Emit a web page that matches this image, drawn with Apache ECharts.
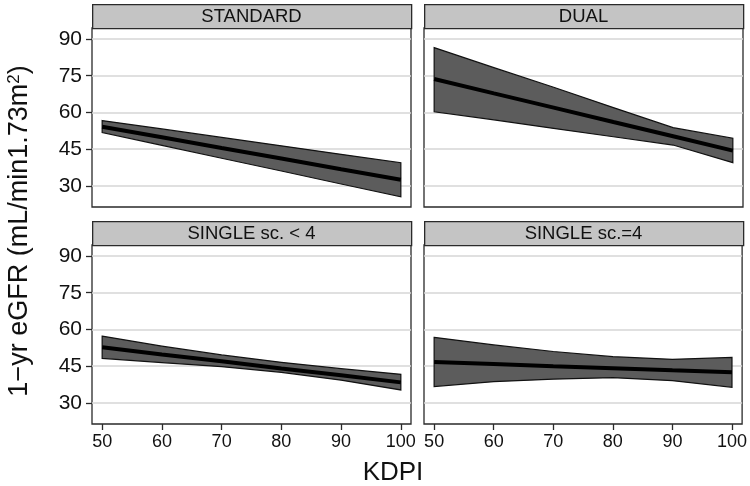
<!DOCTYPE html>
<html><head><meta charset="utf-8">
<script src="https://cdn.jsdelivr.net/npm/echarts@6/dist/echarts.min.js"></script>
<style>html,body{margin:0;padding:0;background:#fff}#c{width:750px;height:486px}</style>
</head><body><div id="c"></div>
<script>
// ---- data ----
const kdpi = [50, 60, 70, 80, 90, 100];
const panelTitles = ['STANDARD', 'DUAL', 'SINGLE sc. < 4', 'SINGLE sc.=4'];
const yTicks = [30, 45, 60, 75, 90];
const xTicks = [50, 60, 70, 80, 90, 100];

const standardFit   = [54.2, 49.9, 45.5, 41.2, 36.8, 32.5];
const standardUpper = [56.7, 53.3, 49.8, 46.4, 42.9, 39.5];
const standardLower = [51.8, 46.6, 41.3, 36.1, 30.8, 25.6];

const dualFit   = [73.7, 67.8, 62.0, 56.1, 50.3, 44.4];
const dualUpper = [86.5, 78.3, 70.3, 62.0, 53.8, 49.5];
const dualLower = [60.3, 57.0, 53.5, 50.1, 46.7, 39.5];

const singleLt4Fit   = [52.7, 49.8, 47.0, 44.1, 41.3, 38.4];
const singleLt4Upper = [57.3, 53.2, 49.6, 46.6, 44.0, 41.7];
const singleLt4Lower = [48.2, 46.5, 44.8, 42.5, 39.3, 35.3];

const singleEq4Fit   = [46.7, 45.9, 45.0, 44.2, 43.3, 42.5];
const singleEq4Upper = [56.8, 53.7, 51.0, 48.9, 47.8, 48.6];
const singleEq4Lower = [36.7, 38.7, 39.7, 40.3, 39.1, 36.4];

const fits   = [standardFit, dualFit, singleLt4Fit, singleEq4Fit];
const uppers = [standardUpper, dualUpper, singleLt4Upper, singleEq4Upper];
const lowers = [standardLower, dualLower, singleLt4Lower, singleEq4Lower];

// ---- layout ----
const panels = [
  {left: 92,  top: 28,  width: 319, height: 179},
  {left: 424, top: 28,  width: 319, height: 179},
  {left: 92,  top: 245, width: 319, height: 179},
  {left: 424, top: 245, width: 319, height: 179}
];
const stripH = 24;
const font = 'Liberation Sans, Arial, Helvetica, sans-serif';
const ink = '#111';

const grids = [], xAxes = [], yAxes = [], series = [], graphics = [];
panels.forEach((p, i) => {
  grids.push({left: p.left, top: p.top, width: p.width, height: p.height,
    show: true, borderColor: '#2a2a2a', borderWidth: 1.3, backgroundColor: '#fff', containLabel: false});
  const bottomRow = i >= 2, leftCol = i % 2 === 0;
  xAxes.push({type: 'value', gridIndex: i, min: 48.3, max: 101.7,
    axisLine: {show: false}, splitLine: {show: false},
    axisTick: {show: bottomRow, length: 6, lineStyle: {color: '#2a2a2a', width: 1.3}, customValues: xTicks},
    axisLabel: {show: bottomRow, customValues: xTicks, fontSize: 18, color: ink, fontFamily: font, margin: 9}
  });
  yAxes.push({type: 'value', gridIndex: i, min: 21.4, max: 94.5,
    axisLine: {show: false},
    splitLine: {show: true, lineStyle: {color: '#d6d6d6', width: 1.5}},
    axisTick: {show: leftCol, length: 6, lineStyle: {color: '#2a2a2a', width: 1.3}, customValues: yTicks},
    axisLabel: {show: leftCol, customValues: yTicks, fontSize: 21, color: ink, fontFamily: font, margin: 10}
  });
  const up = uppers[i], lo = lowers[i];
  series.push({
    type: 'custom', xAxisIndex: i, yAxisIndex: i, z: 2,
    data: kdpi.map((x, k) => [x, lo[k], up[k]]),
    encode: {x: 0, y: [1, 2]},
    renderItem: function (params, api) {
      if (params.dataIndex !== 0) return;
      const pts = [];
      for (let k = 0; k < kdpi.length; k++) pts.push(api.coord([kdpi[k], up[k]]));
      for (let k = kdpi.length - 1; k >= 0; k--) pts.push(api.coord([kdpi[k], lo[k]]));
      return {type: 'polygon', shape: {points: pts},
        style: {fill: '#5c5c5c', stroke: '#111', lineWidth: 1.2}};
    },
    silent: true
  });
  series.push({
    type: 'line', xAxisIndex: i, yAxisIndex: i, z: 3,
    data: kdpi.map((x, k) => [x, fits[i][k]]),
    showSymbol: false, symbol: 'none',
    lineStyle: {color: '#000', width: 4}, silent: true
  });
  graphics.push({type: 'rect', left: p.left, top: p.top - stripH,
    shape: {width: p.width, height: stripH},
    style: {fill: '#c4c4c4', stroke: '#2a2a2a', lineWidth: 1.3}, z: 10});
  graphics.push({type: 'text', x: p.left + p.width / 2, y: p.top - stripH / 2 + 1,
    style: {text: panelTitles[i], fontSize: 18.5, fontFamily: font, fill: ink,
      textAlign: 'center', textVerticalAlign: 'middle'}, z: 11});
});

graphics.push({type: 'text', x: 393, y: 473,
  style: {text: 'KDPI', fontSize: 26, fontFamily: font, fill: ink,
    textAlign: 'center', textVerticalAlign: 'middle'}, z: 11});
graphics.push({type: 'text', x: 20, y: 231, rotation: Math.PI / 2,
  style: {text: '1\u2212yr eGFR (mL/min1.73m{sup|2})', fontSize: 27, fontFamily: font, fill: ink,
    textAlign: 'center', textVerticalAlign: 'middle',
    rich: {sup: {fontSize: 17, fontFamily: font, fill: ink, verticalAlign: 'top', padding: [0, 0, 12, 0]}}}, z: 11});

const chart = echarts.init(document.getElementById('c'), null, {renderer: 'canvas'});
chart.setOption({
  animation: false,
  backgroundColor: '#fff',
  grid: grids, xAxis: xAxes, yAxis: yAxes, series: series, graphic: graphics
});
</script></body></html>
